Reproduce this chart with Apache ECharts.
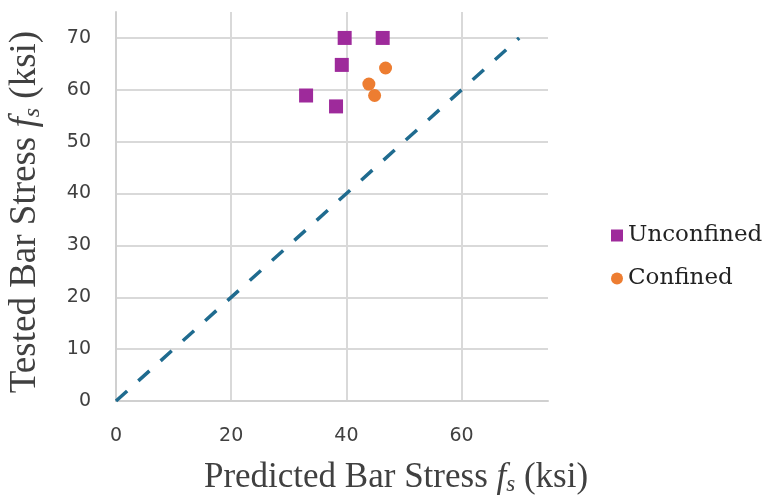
<!DOCTYPE html>
<html><head><meta charset="utf-8">
<script src="https://cdn.jsdelivr.net/npm/echarts@6/dist/echarts.min.js"></script>
<style>html,body{margin:0;padding:0;background:#fff}#c{width:766px;height:499px}</style>
</head><body><div id="c"></div>
<script>
const unconfined = [[39.7,70],[46.3,70],[39.2,64.8],[33,58.9],[38.2,56.8]];
const confined = [[46.8,64.2],[43.9,61.1],[44.9,58.9]];
const refLine = [[0,0],[70,70]];
const xTicks = [0,20,40,60];
const yTicks = [0,10,20,30,40,50,60,70];

const chart = echarts.init(document.getElementById('c'));
function titleStyle(text, fs) {
  const sub = Math.round(fs * 0.65);
  return {
    text: text, x: 0, y: 0,
    fontFamily: 'Liberation Serif', fontSize: fs, fill: '#404040',
    align: 'center', verticalAlign: 'middle', textAlign: 'center', textVerticalAlign: 'middle',
    rich: {
      n: {fontFamily:'Liberation Serif', fontSize:fs, color:'#404040'},
      i: {fontFamily:'Liberation Serif', fontStyle:'italic', fontSize:fs, color:'#404040'},
      s: {fontFamily:'Liberation Serif', fontStyle:'italic', fontSize:sub, color:'#404040', padding:[Math.round(fs*0.4),0,0,0]}
    }
  };
}
chart.setOption({
  animation: false,
  grid: {left: 116, right: 218, top: 12, bottom: 98},
  xAxis: {
    type: 'value', min: 0, max: 75, interval: 20,
    axisLine: {show: true, lineStyle: {color: '#d0d0d0', width: 2}},
    axisTick: {show: false},
    axisLabel: {color: '#404040', fontFamily: 'DejaVu Sans', fontSize: 19, margin: 26,
      showMaxLabel: false, formatter: v => xTicks.includes(v) ? String(v) : ''},
    splitLine: {show: true, showMaxLine: false, lineStyle: {color: '#d9d9d9', width: 2}}
  },
  yAxis: {
    type: 'value', min: 0, max: 75, interval: 10,
    axisLine: {show: true, lineStyle: {color: '#d0d0d0', width: 2}},
    axisTick: {show: false},
    axisLabel: {color: '#404040', fontFamily: 'DejaVu Sans', fontSize: 19, margin: 25,
      showMaxLabel: false, formatter: v => yTicks.includes(v) ? String(v) : ''},
    splitLine: {show: true, showMaxLine: false, lineStyle: {color: '#d9d9d9', width: 2}}
  },
  legend: {
    orient: 'vertical', left: 606, top: 219, itemGap: 20,
    itemWidth: 12, itemHeight: 12,
    textStyle: {fontFamily: 'DejaVu Serif', fontSize: 23, color: '#222'},
    data: [{name: 'Unconfined', icon: 'rect'}, {name: 'Confined', icon: 'circle'}]
  },
  series: [
    {name: 'Ref', type: 'line', data: refLine, symbol: 'none', silent: true,
     lineStyle: {color: '#1f6b8f', width: 3.5, type: [15, 15]}, z: 1},
    {name: 'Unconfined', type: 'scatter', data: unconfined, symbol: 'rect', symbolSize: 14,
     itemStyle: {color: '#9e2a9b', opacity: 1}, z: 3},
    {name: 'Confined', type: 'scatter', data: confined, symbol: 'circle', symbolSize: 13,
     itemStyle: {color: '#ed7d31', opacity: 1}, z: 3}
  ],
  graphic: [
    {type: 'text', x: 396, y: 478,
     style: titleStyle('{n|Predicted Bar Stress }{i|f}{s|s}{n| (ksi)}', 35)},
    {type: 'text', x: 25, y: 212, rotation: Math.PI/2,
     style: titleStyle('{n|Tested Bar Stress }{i|f}{s|s}{n| (ksi)}', 37)}
  ]
});
</script></body></html>
